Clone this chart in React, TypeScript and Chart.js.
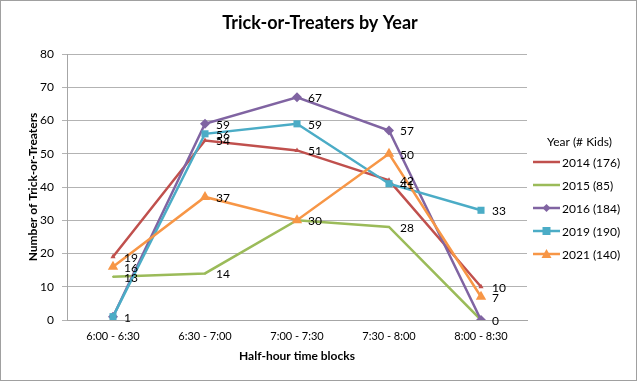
import React, { useEffect, useRef } from "react";
import { Chart, registerables } from "chart.js";

Chart.register(...registerables);

const categories = ["6:00 - 6:30", "6:30 - 7:00", "7:00 - 7:30", "7:30 - 8:00", "8:00 - 8:30"];
const yTicks = [0, 10, 20, 30, 40, 50, 60, 70, 80];
const series2014 = [19, 54, 51, 42, 10];
const series2015 = [13, 14, 30, 28, 0];
const series2016 = [1, 59, 67, 57, 0];
const series2019 = [1, 56, 59, 41, 33];
const series2021 = [16, 37, 30, 50, 7];
const seriesLabels = ["2014 (176)", "2015 (85)", "2016 (184)", "2019 (190)", "2021 (140)"];
const titleText = "Trick-or-Treaters by Year";
const yTitle = "Number of Trick-or-Treaters";
const xTitle = "Half-hour time blocks";
const legendTitle = "Year (# Kids)";

const FONT = "Lato, 'Open Sans', sans-serif";

const colors = ["#C0504D", "#9BBB59", "#8064A2", "#4BACC6", "#F79646"];
const pointStyles: any[] = ["triangle", "circle", "rectRot", "rect", "triangle"];
const pointRadii = [3, 1, 5, 5, 6];

const decorPlugin = {
  id: "decor",
  afterDatasetsDraw(chart: any) {
    const ctx = chart.ctx;
    const area = chart.chartArea;
    ctx.save();
    // data labels
    ctx.fillStyle = "#000";
    ctx.font = `12px ${FONT}`;
    ctx.textAlign = "left";
    ctx.textBaseline = "middle";
    const drawn = new Set<string>();
    chart.data.datasets.forEach((ds: any, i: number) => {
      const meta = chart.getDatasetMeta(i);
      meta.data.forEach((pt: any, j: number) => {
        const key = `${j}:${ds.data[j]}`;
        if (drawn.has(key)) return;
        drawn.add(key);
        ctx.fillText(String(ds.data[j]), pt.x + 11, pt.y + 1);
      });
    });
    // title
    ctx.font = `bold 18px ${FONT}`;
    ctx.textAlign = "center";
    ctx.fillText(titleText, 320, 23);
    // axis titles
    ctx.font = `bold 12px ${FONT}`;
    ctx.fillText(xTitle, (area.left + area.right) / 2, 356);
    ctx.save();
    ctx.translate(33, (area.top + area.bottom) / 2);
    ctx.rotate(-Math.PI / 2);
    ctx.fillText(yTitle, 0, 0);
    ctx.restore();
    // legend
    ctx.font = `12px ${FONT}`;
    ctx.textAlign = "left";
    ctx.fillText(legendTitle, 547, 142);
    const ys = [162, 185, 208, 231, 254];
    chart.data.datasets.forEach((ds: any, i: number) => {
      const y = ys[i];
      ctx.strokeStyle = ds.borderColor;
      ctx.lineWidth = 2.5;
      ctx.beginPath();
      ctx.moveTo(533, y);
      ctx.lineTo(560, y);
      ctx.stroke();
      if (i >= 2) {
        ctx.fillStyle = ds.borderColor;
        const cx = 546.5;
        const r = 4;
        ctx.beginPath();
        if (i === 2) {
          ctx.moveTo(cx, y - r);
          ctx.lineTo(cx + r, y);
          ctx.lineTo(cx, y + r);
          ctx.lineTo(cx - r, y);
        } else if (i === 3) {
          ctx.rect(cx - r, y - r, 2 * r, 2 * r);
        } else {
          ctx.moveTo(cx, y - r - 1);
          ctx.lineTo(cx + r + 1, y + r);
          ctx.lineTo(cx - r - 1, y + r);
        }
        ctx.closePath();
        ctx.fill();
      }
      ctx.fillStyle = "#000";
      ctx.fillText(seriesLabels[i], 562, y + 1);
    });
    // border
    ctx.strokeStyle = "#A0A0A0";
    ctx.lineWidth = 1;
    ctx.strokeRect(0.5, 0.5, 636, 380);
    ctx.restore();
  },
};

export default function App() {
  const ref = useRef<HTMLCanvasElement>(null);
  useEffect(() => {
    document.body.style.margin = "0";
    const allSeries = [series2014, series2015, series2016, series2019, series2021];
    const chart = new Chart(ref.current!, {
      type: "line",
      data: {
        labels: categories,
        datasets: allSeries.map((d, i) => ({
          label: seriesLabels[i],
          data: d,
          order: allSeries.length - i,
          borderColor: colors[i],
          backgroundColor: colors[i],
          borderWidth: 2.5,
          pointStyle: pointStyles[i],
          pointRadius: pointRadii[i],
          pointBorderWidth: 0,
          tension: 0,
          fill: false,
        })),
      },
      options: {
        animation: false,
        responsive: false,
        devicePixelRatio: 1,
        layout: { padding: { top: 54, right: 112, bottom: 0, left: 0 } },
        plugins: { legend: { display: false }, title: { display: false }, tooltip: { enabled: false } },
        scales: {
          x: {
            offset: true,
            grid: { display: false, drawTicks: false, offset: true },
            border: { display: true, color: "#A6A6A6", width: 1 },
            ticks: { font: { family: FONT, size: 11 }, color: "#000", padding: 10, maxRotation: 0 },
            afterFit: (s: any) => { s.height = 63; },
          },
          y: {
            min: 0,
            max: 80,
            afterBuildTicks: (s: any) => { s.ticks = yTicks.map((v) => ({ value: v })); },
            grid: { color: "#B3B3B3", tickLength: 5, lineWidth: 1 },
            border: { display: true, color: "#A6A6A6", width: 1 },
            ticks: { font: { family: FONT, size: 12 }, color: "#000", padding: 8 },
            afterFit: (s: any) => { s.width = 67; },
          },
        },
      },
      plugins: [decorPlugin],
    });
    return () => chart.destroy();
  }, []);
  return (
    <div style={{ position: "fixed", left: 0, top: 0, width: 639, height: 383, background: "#fff" }}>
      <canvas ref={ref} width={639} height={383} style={{ width: 639, height: 383 }} />
    </div>
  );
}
